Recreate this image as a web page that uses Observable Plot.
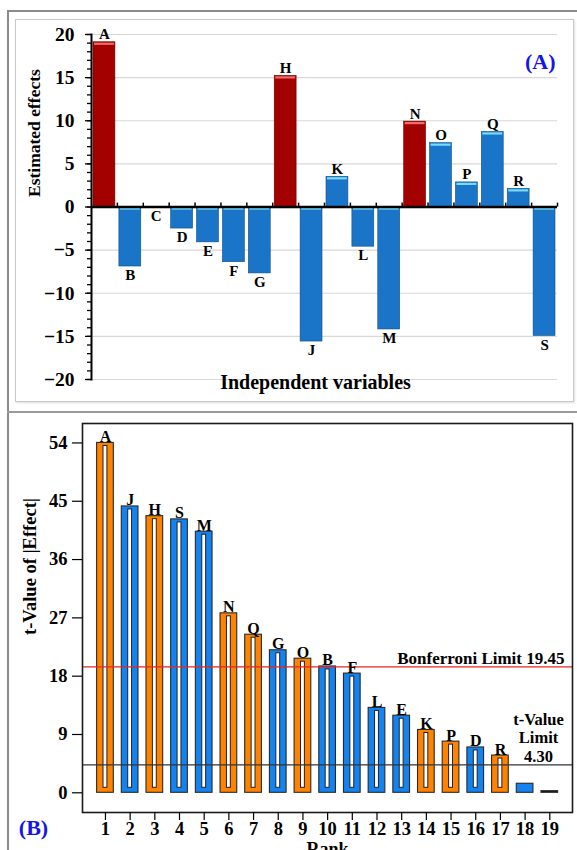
<!DOCTYPE html>
<html>
<head>
<meta charset="utf-8">
<script src="https://cdn.jsdelivr.net/npm/d3@7"></script>
<script src="https://cdn.jsdelivr.net/npm/@observablehq/plot@0.6"></script>
<style>
  html, body { margin: 0; padding: 0; background: #fff; }
  #wrap { position: relative; width: 577px; height: 850px; overflow: hidden; font-family: "Liberation Serif", serif; }
  .outer { position: absolute; left: 7px; top: 10px; width: 600px; height: 900px; border-left: 2px solid #8c8c8c; border-top: 2px solid #8c8c8c; }
  .sep { position: absolute; left: 7px; top: 411px; width: 600px; height: 0; border-top: 2px solid #9a9a9a; }
  .innerA { position: absolute; left: 15px; top: 19px; width: 557px; height: 381px; border: 1px solid #c9c9c9; box-shadow: 1px 1px 2px #ddd; }
  #chartA { position: absolute; left: 0; top: 0; }
  #chartB { position: absolute; left: 0; top: 412px; }
  svg { overflow: visible; }
</style>
</head>
<body>
<div id="wrap">
  <div class="outer"></div>
  <div class="sep"></div>
  <div class="innerA"></div>
  <div id="chartA"></div>
  <div id="chartB"></div>
</div>
<script>
// ---------- Panel (A): estimated effects ----------
const factors = ["A","B","C","D","E","F","G","H","J","K","L","M","N","O","P","Q","R","S"];
const effects = [19.1, -6.9, 0, -2.5, -4.1, -6.4, -7.7, 15.2, -15.6, 3.5, -4.6, -14.2, 9.9, 7.4, 2.85, 8.7, 2.1, -14.95];
const highlighted = ["A","H","N"];
const effectTicks = [-20, -15, -10, -5, 0, 5, 10, 15, 20];

// ---------- Panel (B): t-values of |effect| ranked ----------
const ranks = [1,2,3,4,5,6,7,8,9,10,11,12,13,14,15,16,17,18,19];
const rankLabels = ["A","J","H","S","M","N","Q","G","O","B","F","L","E","K","P","D","R","",""];
const tValues = [54.0, 44.2, 42.7, 42.2, 40.3, 27.7, 24.4, 22.0, 20.7, 19.5, 18.4, 13.1, 11.9, 9.7, 7.9, 7.0, 5.75, 1.4, 0.25];
const tTicks = [0, 9, 18, 27, 36, 45, 54];
const bonferroniLimit = 19.45;
const tValueLimit = 4.30;

const RED = "#a30000", BLUE_A = "#1a74c8", ORANGE = "#ff8200", BLUE_B = "#1283f0";
const serif = "Liberation Serif";

const dataA = factors.map((f, i) => ({f, i: i + 1, v: effects[i], hi: highlighted.includes(f)}));
const boundaries = dataA.map(d => d.i + 0.5);

const chartA = Plot.plot({
  width: 577, height: 412,
  marginLeft: 91, marginRight: 20, marginTop: 34, marginBottom: 33,
  x: {domain: [0.5, 18.5], axis: null},
  y: {domain: [-20, 20], axis: null, label: null},
  style: {fontFamily: serif, background: "transparent", color: "#000"},
  marks: [
    Plot.gridY(effectTicks, {stroke: "#d8d8d8", strokeOpacity: 1, strokeWidth: 1.2}),
    Plot.rectY(dataA, {x1: d => d.i - 0.5, x2: d => d.i + 0.5, y1: 0, y2: "v",
      insetLeft: 2, insetRight: 2,
      fill: d => d.hi ? RED : BLUE_A, stroke: d => d.hi ? "#6e0000" : "#0e4f8c", strokeWidth: 0.6}),
    Plot.ruleY(dataA.filter(d => d.v !== 0), {y: d => Math.max(d.v, 0), x1: d => d.i - 0.5, x2: d => d.i + 0.5,
      insetLeft: 3, insetRight: 3, dy: 1.5, strokeWidth: 2.2,
      stroke: d => d.hi ? "#f26a6a" : "#78dcf8"}),
    Plot.ruleY([0], {stroke: "#000", strokeWidth: 2.5}),
    Plot.ruleX(boundaries, {y1: 0, y2: 0.45, stroke: "#000", strokeWidth: 1.5}),
    Plot.axisY(d3.range(-20, 21, 1), {tickSize: 4, tickFormat: () => "", label: null, strokeWidth: 1.3}),
    Plot.axisY(effectTicks, {tickSize: 6, tickPadding: 11, fontSize: 19.5, fontWeight: "bold", label: null, strokeWidth: 1.3}),
    Plot.frame({anchor: "left", stroke: "#000", strokeWidth: 2}),
    Plot.text(dataA.filter(d => d.v > 0), {x: "i", y: "v", text: "f", lineAnchor: "bottom", dy: -3,
      fontSize: 15, fontWeight: "bold"}),
    Plot.text(dataA.filter(d => d.v <= 0), {x: "i", y: "v", text: "f", lineAnchor: "top", dy: 3,
      fontSize: 15, fontWeight: "bold"}),
    Plot.text(["Estimated effects"], {frameAnchor: "left", dx: -57, dy: -10, rotate: -90,
      fontSize: 17.5, fontWeight: "bold"}),
    Plot.text(["Independent variables"], {frameAnchor: "bottom", dy: 9, dx: -9,
      fontSize: 20, fontWeight: "bold", letterSpacing: "1px"}),
    Plot.text(["(A)"], {frameAnchor: "top-right", textAnchor: "end", dx: -2, dy: 19,
      fontSize: 22, fontWeight: "bold", fill: "#1515e6"})
  ]
});
document.getElementById("chartA").append(chartA);

const dataB = ranks.map((r, i) => {
  const lab = rankLabels[i];
  const k = factors.indexOf(lab);
  let fill;
  if (lab) fill = effects[k] > 0 ? ORANGE : BLUE_B;
  else fill = i === ranks.length - 1 ? "#111" : BLUE_B;
  return {r, t: tValues[i], lab, fill};
});

const chartB = Plot.plot({
  width: 577, height: 438,
  marginLeft: 82, marginRight: 5, marginTop: 11, marginBottom: 38,
  x: {domain: [0.07, 19.92], axis: null},
  y: {domain: [-3.04, 57.0], axis: null, label: null},
  style: {fontFamily: serif, background: "transparent", color: "#000"},
  marks: [
    Plot.rectY(dataB, {x1: d => d.r - 0.5, x2: d => d.r + 0.5, y1: 0, y2: "t",
      insetLeft: 4, insetRight: 4, fill: "fill", stroke: "#2a2a2a", strokeWidth: 1.1}),
    Plot.rectY(dataB.filter(d => d.lab), {x1: d => d.r - 0.5, x2: d => d.r + 0.5, y1: 0, y2: "t",
      insetLeft: 10.4, insetRight: 10.4, insetTop: 3, insetBottom: 5, fill: "#fff", stroke: "#222", strokeWidth: 1}),
    Plot.ruleY([bonferroniLimit], {stroke: "#e8231f", strokeWidth: 1.2}),
    Plot.ruleY([tValueLimit], {stroke: "#333", strokeWidth: 1.2}),
    Plot.text(dataB.filter(d => d.lab), {x: "r", y: "t", text: "lab", lineAnchor: "bottom", dy: -1,
      fontSize: 16, fontWeight: "bold"}),
    Plot.text([`Bonferroni Limit ${bonferroniLimit.toFixed(2)}`], {y: [bonferroniLimit], frameAnchor: "right",
      textAnchor: "end", dx: -8, lineAnchor: "bottom", dy: -3, fontSize: 17, fontWeight: "bold", letterSpacing: "0.4px"}),
    Plot.text([`t-Value\nLimit\n${tValueLimit.toFixed(2)}`], {y: [tValueLimit], frameAnchor: "right",
      textAnchor: "middle", dx: -34, lineAnchor: "bottom", dy: -3, lineHeight: 1.12,
      fontSize: 16.5, fontWeight: "bold"}),
    Plot.frame({stroke: "#1a1a1a", strokeWidth: 1.6}),
    Plot.axisY(tTicks, {anchor: "left", tickSize: 10, tickPadding: 5, fontSize: 18.5, fontWeight: "bold", label: null, strokeWidth: 1.2}),
    Plot.axisX(ranks, {anchor: "bottom", tickSize: 8, tickPadding: 1, fontSize: 18.5, fontWeight: "bold", label: null, strokeWidth: 1.2}),
    Plot.text(["t-Value of |Effect|"], {frameAnchor: "left", dx: -52, dy: 17, rotate: -90,
      fontSize: 18.5, fontWeight: "bold"}),
    Plot.text(["Rank"], {frameAnchor: "bottom", dy: 30, lineAnchor: "top", fontSize: 18, fontWeight: "bold"}),
    Plot.text(["(B)"], {frameAnchor: "bottom-left", dx: -49, dy: 22, textAnchor: "middle",
      fontSize: 22, fontWeight: "bold", fill: "#1515e6"})
  ]
});
document.getElementById("chartB").append(chartB);
</script>
</body>
</html>
